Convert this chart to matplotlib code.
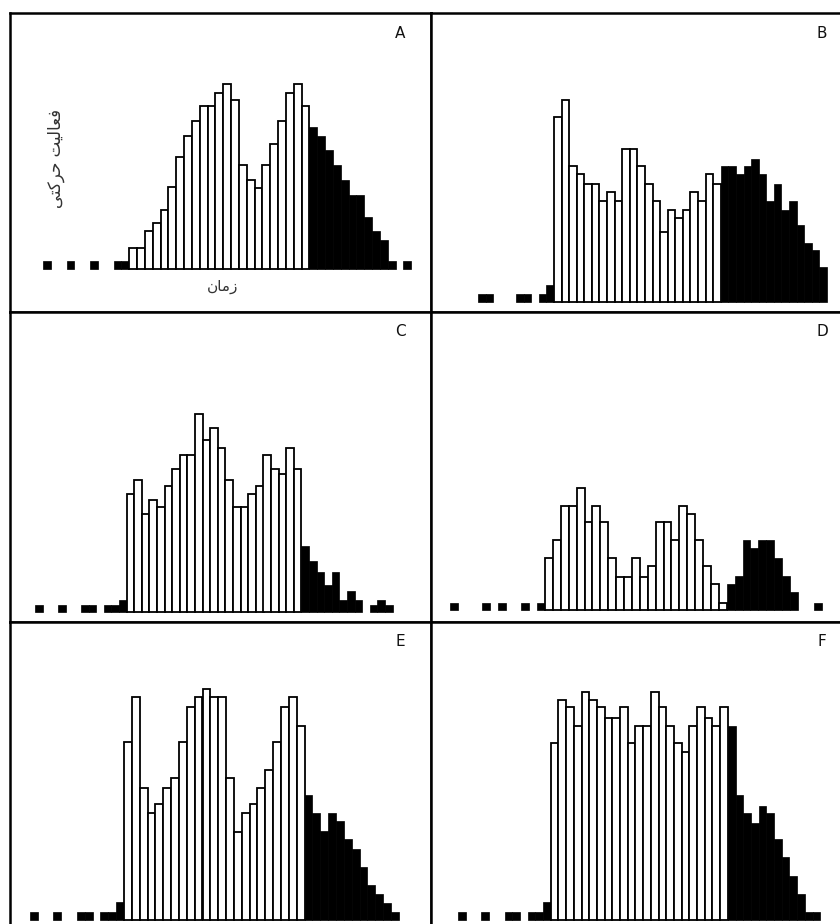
import matplotlib.pyplot as plt

# bin heights (activity, ~1 unit = 1 px of the original)
# left_* : black bins before the white block, white_* : white bins, right_* : black bins after
left_a = [8, 0, 0, 8, 0, 0, 8, 0, 0, 8, 8]
white_a = [21, 21, 38, 46, 59, 82, 112, 133, 148, 163, 163, 176, 185, 169, 104, 89, 81,
           104, 125, 148, 176, 185, 163]
right_a = [142, 133, 119, 104, 89, 74, 74, 52, 38, 29, 8, 0, 8]

left_b = [8, 8, 0, 0, 0, 8, 8, 0, 8, 17]
white_b = [185, 202, 136, 128, 118, 118, 101, 110, 101, 153, 153, 136, 118, 101, 70, 92,
           84, 92, 110, 101, 128, 118]
right_b = [136, 136, 128, 136, 143, 128, 101, 118, 92, 101, 77, 59, 52, 35]

left_c = [7, 0, 0, 7, 0, 0, 7, 7, 0, 7, 7, 12]
white_c = [118, 132, 98, 112, 105, 126, 143, 157, 157, 198, 172, 184, 164, 132, 105, 105,
           118, 126, 157, 143, 138, 164, 143]
right_c = [66, 51, 40, 27, 40, 12, 21, 12, 0, 7, 12, 7]

left_d = [7, 0, 0, 0, 7, 0, 7, 0, 0, 7, 0, 7]
white_d = [52, 70, 104, 104, 122, 88, 104, 88, 52, 33, 33, 52, 33, 44, 88, 88, 70, 104,
           96, 70, 44, 26, 7]
right_d = [26, 34, 70, 62, 70, 70, 52, 34, 18, 0, 0, 7]

left_e = [8, 0, 0, 8, 0, 0, 8, 8, 0, 8, 8, 18]
white_e = [178, 223, 132, 107, 116, 132, 142, 178, 213, 223, 231, 223, 223, 142, 88, 107,
           116, 132, 150, 178, 213, 223, 194]
right_e = [125, 107, 89, 107, 99, 81, 71, 53, 35, 26, 17, 8]

left_f = [8, 0, 0, 8, 0, 0, 8, 8, 0, 8, 8, 18]
white_f = [177, 220, 213, 194, 228, 220, 213, 202, 202, 213, 177, 194, 194, 228, 213, 194,
           177, 168, 194, 213, 202, 194, 213]
right_f = [194, 125, 107, 97, 114, 107, 81, 63, 44, 26, 8, 8]

labels = ["A", "B", "C", "D", "E", "F"]
data = [(left_a, white_a, right_a), (left_b, white_b, right_b), (left_c, white_c, right_c),
        (left_d, white_d, right_d), (left_e, white_e, right_e), (left_f, white_f, right_f)]

# Persian axis labels, pre-shaped (visual order) since matplotlib does no Arabic shaping
ylabel_fa = "\uFBFD\uFE98\uFB90\uFEAE\uFEA3 \uFE96\uFBFF\uFEDF\uFE8E\uFECC\uFED3"  # فعالیت حرکتی
xlabel_fa = "\uFEE5\uFE8E\uFEE3\uFEAF"  # زمان

FW, FH = 840, 924
# panel boxes in pixels: left, top, width, height ; white block start x, baseline y, bin width
layout = [
    (10, 13, 421, 299, 129.3, 269.3, 7.83),
    (431, 13, 420, 299, 554.0, 301.7, 7.58),
    (10, 312, 421, 310, 126.7, 611.7, 7.60),
    (431, 312, 420, 310, 545.0, 610.0, 7.90),
    (10, 622, 421, 312, 124.0, 920.0, 7.85),
    (431, 622, 420, 312, 550.7, 920.0, 7.70),
]

fig = plt.figure(figsize=(FW / 100, FH / 100), dpi=100)

for (left, white, right), lab, (x0, y0, w, h, xs, base, bw) in zip(data, labels, layout):
    ax = fig.add_axes([x0 / FW, 1 - (y0 + h) / FH, w / FW, h / FH])
    n = len(white)
    lx = [i - len(left) for i, v in enumerate(left) if v > 0]
    lh = [v for v in left if v > 0]
    rx = [n + i for i, v in enumerate(right) if v > 0]
    rh = [v for v in right if v > 0]
    ax.bar(lx + rx, lh + rh, width=1, align="edge", color="black",
           edgecolor="black", linewidth=0.5)
    ax.bar(range(n), white, width=1, align="edge", color="white",
           edgecolor="black", linewidth=1.3)
    ax.set_xlim((x0 - xs) / bw, (x0 + w - xs) / bw)
    b = y0 + h - base
    ax.set_ylim(-b, h - b)
    ax.set_xticks([])
    ax.set_yticks([])
    for s in ax.spines.values():
        s.set_linewidth(1.8)
    lab_x = 400 if x0 < 400 else 822
    fig.text(lab_x / FW, 1 - (y0 + 20) / FH, lab, ha="center", va="center",
             fontsize=11, color="#111111")

fig.text(56 / FW, 1 - 158 / FH, ylabel_fa, rotation=90, ha="center", va="center",
         fontsize=12, color="#333333", family=["DejaVu Sans"])
fig.text(223 / FW, 1 - 287 / FH, xlabel_fa, ha="center", va="center",
         fontsize=11, color="#333333", family=["DejaVu Sans"])

fig.savefig("out.png", dpi=100)
